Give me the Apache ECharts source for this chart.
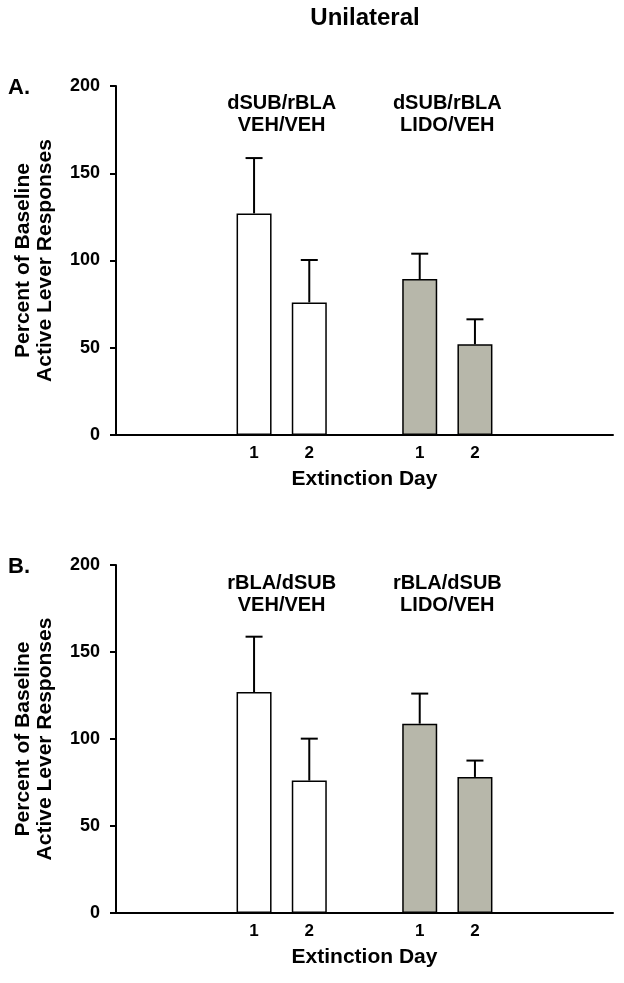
<!DOCTYPE html>
<html>
<head>
<meta charset="utf-8">
<script src="https://cdn.jsdelivr.net/npm/echarts@6/dist/echarts.min.js"></script>
<style>
html,body{margin:0;padding:0;background:#fff;}
#chart{width:624px;height:983px;}
</style>
</head>
<body>
<div id="chart"></div>
<script>
// ---- data ----
const xTickLabels = ['', '', '1', '2', '', '1', '2', '', ''];
const vehSlots = [2, 3];
const lidoSlots = [5, 6];
const yTicks = [0, 50, 100, 150, 200];

const groupLabelsA = ['dSUB/rBLA\nVEH/VEH', 'dSUB/rBLA\nLIDO/VEH'];
const groupLabelsB = ['rBLA/dSUB\nVEH/VEH', 'rBLA/dSUB\nLIDO/VEH'];

const vehMeanA = [127, 76];
const vehSemA = [31.7, 24.3];
const lidoMeanA = [89.4, 52];
const lidoSemA = [14.5, 14.3];

const vehMeanB = [127, 76.1];
const vehSemB = [31.8, 24.1];
const lidoMeanB = [108.8, 78.2];
const lidoSemB = [17.3, 9.4];

// ---- helpers ----
const FONT = "'Liberation Sans', Arial, sans-serif";
function slotData(slots, vals) {
  const arr = xTickLabels.map(() => '-');
  slots.forEach((s, i) => { arr[s] = vals[i]; });
  return arr;
}
function errData(slots, means, sems) {
  return slots.map((s, i) => [s, means[i], sems[i]]);
}
function errRender(params, api) {
  const x = api.value(0), m = api.value(1), e = api.value(2);
  const p0 = api.coord([x, m]);
  const p1 = api.coord([x, m + e]);
  const half = 8.5;
  return {
    type: 'group',
    children: [
      { type: 'line', shape: { x1: p0[0], y1: p0[1], x2: p1[0], y2: p1[1] }, style: { stroke: '#000', lineWidth: 2 } },
      { type: 'line', shape: { x1: p1[0] - half, y1: p1[1], x2: p1[0] + half, y2: p1[1] }, style: { stroke: '#000', lineWidth: 2 } }
    ]
  };
}
function xAxisDef(gi) {
  return {
    gridIndex: gi, type: 'category', data: xTickLabels, boundaryGap: true,
    axisLine: { lineStyle: { color: '#000', width: 2 } },
    axisTick: { show: false },
    axisLabel: { color: '#000', fontFamily: FONT, fontWeight: 'bold', fontSize: 17, margin: 10, interval: 0 },
    name: 'Extinction Day', nameLocation: 'middle', nameGap: 34,
    nameTextStyle: { color: '#000', fontFamily: FONT, fontWeight: 'bold', fontSize: 21 }
  };
}
function yAxisDef(gi) {
  return {
    gridIndex: gi, type: 'value', min: yTicks[0], max: yTicks[yTicks.length - 1], interval: 50,
    axisLine: { show: true, lineStyle: { color: '#000', width: 2 } },
    axisTick: { show: true, length: 6, lineStyle: { color: '#000', width: 2 } },
    splitLine: { show: false },
    axisLabel: { color: '#000', fontFamily: FONT, fontWeight: 'bold', fontSize: 18, margin: 16 },
    name: 'Percent of Baseline\nActive Lever Responses', nameLocation: 'middle', nameRotate: 90, nameGap: 60,
    nameTextStyle: { color: '#000', fontFamily: FONT, fontWeight: 'bold', fontSize: 21, lineHeight: 22 }
  };
}
function barSeries(gi, slots, vals, color) {
  return {
    type: 'bar', xAxisIndex: gi, yAxisIndex: gi, data: slotData(slots, vals),
    barWidth: 35, barGap: '-100%',
    itemStyle: { color: color, borderColor: '#000', borderWidth: 1.5 },
    silent: true, animation: false
  };
}
function errSeries(gi, slots, means, sems) {
  return {
    type: 'custom', xAxisIndex: gi, yAxisIndex: gi,
    data: errData(slots, means, sems), renderItem: errRender,
    encode: { x: 0, y: 1 }, silent: true, animation: false, z: 5
  };
}

const chart = echarts.init(document.getElementById('chart'), null, { renderer: 'canvas' });
const option = {
  backgroundColor: '#fff',
  animation: false,
  grid: [
    { left: 116, top: 86, width: 497, height: 349 },
    { left: 116, top: 565, width: 497, height: 348 }
  ],
  xAxis: [xAxisDef(0), xAxisDef(1)],
  yAxis: [yAxisDef(0), yAxisDef(1)],
  series: [
    barSeries(0, vehSlots, vehMeanA, '#ffffff'),
    barSeries(0, lidoSlots, lidoMeanA, '#b7b7aa'),
    errSeries(0, vehSlots, vehMeanA, vehSemA),
    errSeries(0, lidoSlots, lidoMeanA, lidoSemA),
    barSeries(1, vehSlots, vehMeanB, '#ffffff'),
    barSeries(1, lidoSlots, lidoMeanB, '#b7b7aa'),
    errSeries(1, vehSlots, vehMeanB, vehSemB),
    errSeries(1, lidoSlots, lidoMeanB, lidoSemB)
  ]
};
chart.setOption(option);

// group labels & panel titles placed via axis coordinates
function groupCenter(gi, slots) {
  const a = chart.convertToPixel({ xAxisIndex: gi }, slots[0]);
  const b = chart.convertToPixel({ xAxisIndex: gi }, slots[1]);
  return (a + b) / 2;
}
const txt = (x, y, text, size, align) => ({
  type: 'text', x: x, y: y,
  style: { text: text, fill: '#000', font: 'bold ' + size + 'px ' + FONT, align: align || 'center', verticalAlign: 'middle', lineHeight: 22 },
  silent: true
});
const gridTopA = 86, gridTopB = 565;
const graphics = [
  txt(365, 18, 'Unilateral', 24),
  txt(8, 88, 'A.', 22, 'left'),
  txt(8, 567, 'B.', 22, 'left'),
  txt(groupCenter(0, vehSlots), gridTopA + 28, groupLabelsA[0], 20),
  txt(groupCenter(0, lidoSlots), gridTopA + 28, groupLabelsA[1], 20),
  txt(groupCenter(1, vehSlots), gridTopB + 29, groupLabelsB[0], 20),
  txt(groupCenter(1, lidoSlots), gridTopB + 29, groupLabelsB[1], 20)
];
chart.setOption({ graphic: graphics });
</script>
</body>
</html>
